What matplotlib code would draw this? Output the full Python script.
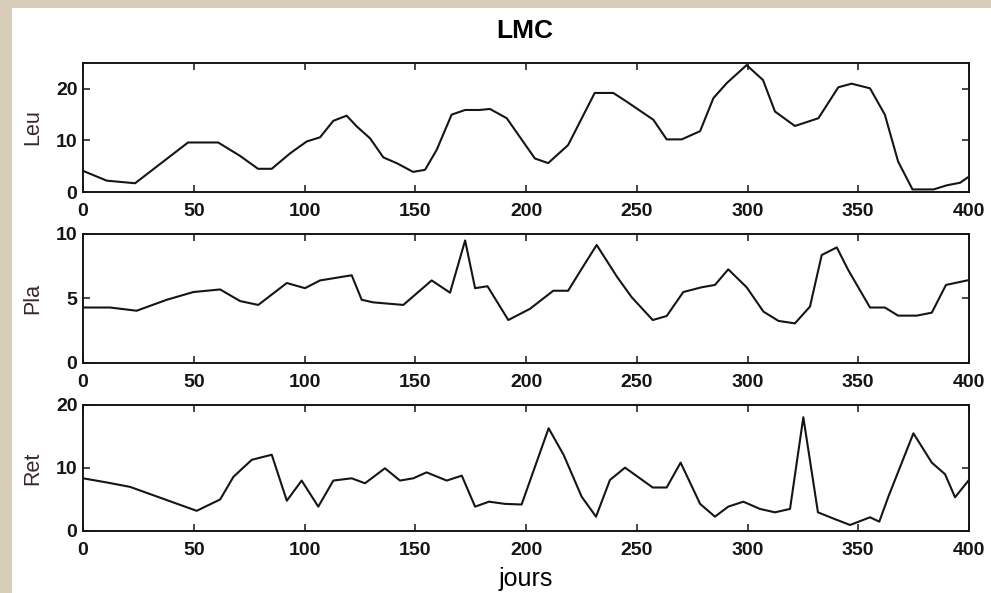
import matplotlib
matplotlib.use("Agg")
import matplotlib.pyplot as plt
from matplotlib.patches import Rectangle

plt.rcParams['font.family'] = ['Liberation Sans', 'DejaVu Sans']

# Leucocytes
leu_days = [0, 10.7, 23.5, 47.4, 61, 70.9, 79, 85.2, 93.5, 101, 107, 113, 119,
            123.6, 129.6, 135.6, 141.6, 149, 154.4, 159.7, 166.4, 172.5, 179,
            183.7, 191.3, 204, 210, 219, 231, 239.4, 245.5, 257.5, 263.5, 270.3,
            278.6, 284.6, 290.6, 299.6, 307, 312.4, 321.4, 332, 341, 347, 355.3,
            362, 368, 374.5, 384, 390, 396, 400]
leu_vals = [4.1, 2.2, 1.7, 9.6, 9.6, 7.0, 4.5, 4.5, 7.5, 9.8, 10.6, 13.8, 14.8,
            12.7, 10.4, 6.7, 5.6, 3.9, 4.3, 8.2, 15.0, 15.9, 15.9,
            16.1, 14.3, 6.5, 5.6, 9.1, 19.2, 19.2, 17.5, 14.0, 10.2, 10.2,
            11.8, 18.2, 21.1, 24.6, 21.7, 15.6, 12.8, 14.3, 20.3, 21.0, 20.1,
            15.0, 5.9, 0.5, 0.5, 1.3, 1.8, 3.0]

# Plaquettes
pla_days = [0, 12.2, 24.2, 37.8, 49.8, 61.9, 70.9, 79.1, 92, 100.2, 107, 121.3,
            125.8, 131, 144.6, 157.4, 165.7, 172.5, 177, 182.6, 192, 201.8,
            212.3, 219, 224.4, 231.9, 241, 247.7, 257.2, 263.5, 271, 279.3,
            285.3, 291.3, 299.6, 307.2, 314, 321.4, 328.2, 333.5, 340.3, 345.5,
            355.3, 362, 368, 376.4, 383.2, 389.6, 400]
pla_vals = [4.3, 4.3, 4.05, 4.9, 5.5, 5.7, 4.8, 4.5, 6.2, 5.8, 6.4, 6.8,
            4.9, 4.7, 4.5, 6.4, 5.45, 9.5, 5.8, 5.95, 3.33, 4.2,
            5.6, 5.6, 7.1, 9.15, 6.7, 5.1, 3.33, 3.64, 5.5, 5.87,
            6.05, 7.26, 5.87, 3.98, 3.26, 3.07, 4.37, 8.37, 8.96, 7.2,
            4.3, 4.3, 3.67, 3.67, 3.9, 6.05, 6.43]

# Reticulocytes
ret_days = [0, 10.7, 21.2, 51.3, 61.9, 67.9, 76.2, 85.2, 92, 98.7, 106.2, 113,
            121.3, 127.3, 136.3, 143.1, 149.1, 155.1, 164.2, 171, 177, 183.3,
            190.5, 198, 210.2, 217, 225.1, 231.6, 237.9, 244.7, 257.2, 263.5,
            269.8, 278.6, 285.3, 291.3, 298.1, 305.6, 312.4, 319.2, 325.2,
            331.8, 338.6, 346.3, 355.3, 359.5, 363.6, 374.9, 383.2, 389.2,
            393.7, 400]
ret_vals = [8.36, 7.7, 7.0, 3.2, 5.0, 8.6, 11.3, 12.1, 4.8, 8.0, 3.86, 8.0,
            8.36, 7.57, 9.95, 8.0, 8.36, 9.3, 8.0, 8.78, 3.86, 4.65,
            4.3, 4.2, 16.3, 12.06, 5.45, 2.27, 8.1, 10.05, 6.9, 6.9,
            10.85, 4.3, 2.27, 3.86, 4.65, 3.5, 2.96, 3.5, 18.05,
            2.96, 2.0, 0.95, 2.17, 1.48, 5.45, 15.5, 10.85, 9.0,
            5.35, 8.1]

x_ticks = [0, 50, 100, 150, 200, 250, 300, 350, 400]
panels = [
    ("Leu", leu_days, leu_vals, 25, [0, 10, 20]),
    ("Pla", pla_days, pla_vals, 10, [0, 5, 10]),
    ("Ret", ret_days, ret_vals, 20, [0, 10, 20]),
]
# axes boxes in figure fractions (left, bottom, width, height)
boxes = [
    (0.0838, 0.6762, 0.894, 0.2175),
    (0.0838, 0.3879, 0.894, 0.2175),
    (0.0838, 0.1046, 0.894, 0.2125),
]

fig = plt.figure(figsize=(9.91, 5.93), dpi=100, facecolor='#d8cdb8')
# white page on the beige backdrop
fig.patches.append(Rectangle((12 / 991, 0), 1, (593 - 8) / 593,
                             transform=fig.transFigure, facecolor='white',
                             edgecolor='none', zorder=-10))

for (name, days, vals, ymax, yt), box in zip(panels, boxes):
    ax = fig.add_axes(box)
    ax.set_facecolor('white')
    ax.plot(days, vals, color='#151515', linewidth=1.5)
    ax.set_xlim(0, 400)
    ax.set_ylim(0, ymax)
    ax.set_xticks(x_ticks)
    ax.set_yticks(yt)
    ax.tick_params(direction='in', top=True, right=True, length=5, width=1.1,
                   labelsize=14, colors='#151515')
    ax.tick_params(axis='x', pad=8)
    ax.tick_params(axis='y', pad=4)
    for lab in ax.get_xticklabels() + ax.get_yticklabels():
        lab.set_fontweight('bold')
    for s in ax.spines.values():
        s.set_linewidth(1.4)
        s.set_color('#151515')
    ax.set_ylabel(name, fontsize=15.5, color='#3a2630')
    ax.yaxis.set_label_coords(-0.045, 0.5)

fig.text(0.53, 0.948, "LMC", ha='center', va='center', fontsize=19,
         fontweight='bold')
fig.text(0.531, 0.011, "jours", ha='center', va='baseline', fontsize=18)

fig.savefig("out.png", dpi=100, facecolor=fig.get_facecolor())
